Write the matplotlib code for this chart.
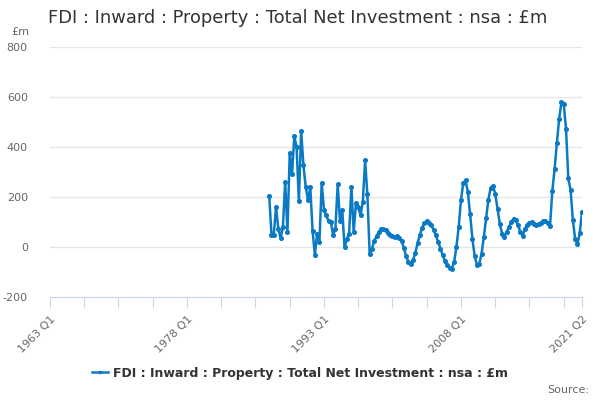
import matplotlib
matplotlib.use("Agg")
from matplotlib import pyplot as plt

# quarterly periods shown on the axis: 1963 Q1 .. 2021 Q2
quarters = [f"{y} Q{q}" for y in range(1963, 2022) for q in range(1, 5)][:234]

# series starts 1987 Q1
series_start = "1987 Q1"
values = [
    205, 50, 50, 160, 73, 36, 80, 261, 60, 377, 291, 443, 400, 183, 464, 327,
    240, 187, 240, 64, -31, 53, 20, 257, 147, 127, 103, 100, 47, 73, 251, 103,
    147, 0, 33, 53, 240, 60, 176, 160, 127, 180, 347, 211, -29, -6, 24, 43,
    60, 71, 72, 67, 57, 49, 43, 40, 43, 37, 24, -4, -37, -60, -66, -53,
    -24, 16, 49, 77, 96, 104, 96, 87, 69, 47, 20, -6, -33, -56, -73, -82,
    -86, -60, 0, 80, 189, 256, 267, 220, 131, 33, -37, -72, -68, -27, 39, 115,
    190, 237, 244, 213, 152, 93, 53, 41, 60, 80, 100, 113, 107, 87, 60, 44,
    73, 87, 96, 100, 93, 89, 93, 97, 103, 103, 96, 84, 224, 312, 417, 513,
    580, 572, 472, 275, 228, 108, 31, 11, 55, 140,
]
tick_labels = ["1963 Q1", "1978 Q1", "1993 Q1", "2008 Q1", "2021 Q2"]
y_ticks = [-200, 0, 200, 400, 600, 800]

title = "FDI : Inward : Property : Total Net Investment : nsa : £m"
line_color = "#0a7ac4"

start = quarters.index(series_start)
xs = list(range(start, start + len(values)))

fig = plt.figure(figsize=(6, 4), dpi=100)
ax = fig.add_axes([50 / 600, 103 / 400, 532 / 600, 250 / 400])

ax.plot(xs, values, color=line_color, lw=1.8, marker="o", ms=2.6,
        label=title, zorder=3)

ax.set_xlim(0, len(quarters) - 1)
ax.set_ylim(-200, 800)
ax.set_yticks(y_ticks)
ax.set_yticklabels([str(v) for v in y_ticks], color="#666666", fontsize=8)
ax.grid(axis="y", color="#e6e6e6", lw=1)
ax.set_axisbelow(True)

minor = list(range(0, len(quarters), 15)) + [len(quarters) - 1]
ax.set_xticks(minor)
ax.set_xticklabels([q if q in tick_labels else "" for q in (quarters[i] for i in minor)],
                   rotation=45, ha="right", rotation_mode="anchor",
                   color="#666666", fontsize=8)
ax.tick_params(axis="x", length=8, color="#ccd6eb", pad=4)
ax.tick_params(axis="y", length=0, pad=16)

for s in ["top", "right", "left"]:
    ax.spines[s].set_visible(False)
ax.spines["bottom"].set_color("#ccd6eb")

fig.text(48 / 600, 1 - 18 / 400, title, fontsize=12.9, color="#333333", va="center")
fig.text(11 / 600, 1 - 32 / 400, "£m", fontsize=8, color="#666666", va="center")
fig.text(589 / 600, 1 - 390 / 400, "Source:", fontsize=8, color="#666666",
         ha="right", va="center")

leg = fig.legend(loc="center", bbox_to_anchor=(0.5, 1 - 373 / 400), frameon=False,
                 prop={"size": 9, "weight": "bold"}, handlelength=1.3,
                 handletextpad=0.4, markerscale=0.6)
for t in leg.get_texts():
    t.set_color("#333333")

fig.savefig("out.png", dpi=100)
